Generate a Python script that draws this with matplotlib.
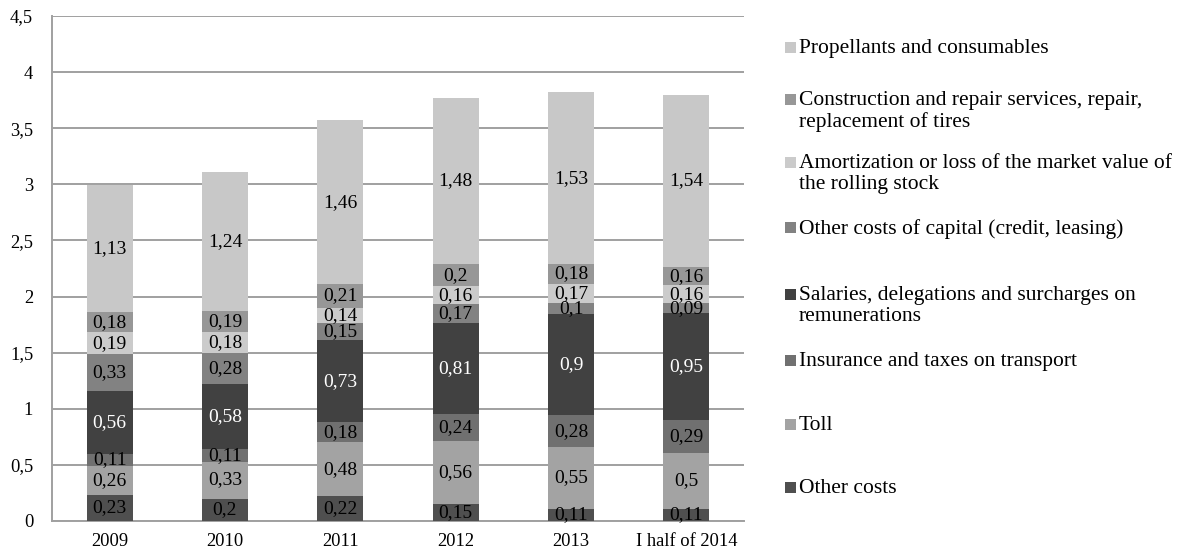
import numpy as np
import matplotlib.pyplot as plt
from matplotlib.patches import Rectangle

years = ['2009', '2010', '2011', '2012', '2013', 'I half of 2014']

# stack order, bottom to top
other_costs = [0.23, 0.2, 0.22, 0.15, 0.11, 0.11]
toll = [0.26, 0.33, 0.48, 0.56, 0.55, 0.5]
insurance = [0.11, 0.11, 0.18, 0.24, 0.28, 0.29]
salaries = [0.56, 0.58, 0.73, 0.81, 0.9, 0.95]
capital = [0.33, 0.28, 0.15, 0.17, 0.1, 0.09]
amortization = [0.19, 0.18, 0.14, 0.16, 0.17, 0.16]
construction = [0.18, 0.19, 0.21, 0.2, 0.18, 0.16]
propellants = [1.13, 1.24, 1.46, 1.48, 1.53, 1.54]

series = [other_costs, toll, insurance, salaries, capital, amortization, construction, propellants]
labels = ['Other costs', 'Toll', 'Insurance and taxes on transport',
          'Salaries, delegations and surcharges on\nremunerations',
          'Other costs of capital (credit, leasing)',
          'Amortization or loss of the market value of\nthe rolling stock',
          'Construction and repair services, repair,\nreplacement of tires',
          'Propellants and consumables']
colors = ['#4f4f4f', '#a3a3a3', '#707070', '#414141', '#828282', '#cbcbcb', '#979797', '#c8c8c8']
text_colors = ['black', 'black', 'black', 'white', 'black', 'black', 'black', 'black']

plt.rcParams['font.family'] = ['Liberation Serif', 'DejaVu Serif']

fig = plt.figure(figsize=(11.78, 5.53), dpi=100)
ax = fig.add_axes([0.0441, 0.0579, 0.5875, 0.9132])

x = np.arange(len(years))
bottom = np.zeros(len(years))
for vals, c, tc in zip(series, colors, text_colors):
    vals = np.array(vals)
    bars = ax.bar(x, vals, 0.4, bottom=bottom, color=c, zorder=3)
    for xi, b, v in zip(x, bottom, vals):
        ax.text(xi, b + v / 2, ('%g' % v).replace('.', ','), ha='center', va='center',
                fontsize=14, color=tc, zorder=4)
    bottom = bottom + vals

ax.set_xlim(-0.5, len(years) - 0.5)
ax.set_ylim(0, 4.5)
yt = np.arange(0, 4.51, 0.5)
ax.set_yticks(yt)
ax.set_yticklabels([('%g' % v).replace('.', ',') for v in yt], fontsize=13.3)
ax.set_xticks(x)
ax.set_xticklabels(years, fontsize=13.3)
ax.tick_params(axis='x', length=0, pad=9)
ax.tick_params(axis='y', length=0, pad=13.5)
ax.grid(axis='y', color='#a0a0a0', lw=1.4, zorder=0)
for s in ['top', 'right']:
    ax.spines[s].set_visible(False)
for s in ['left', 'bottom']:
    ax.spines[s].set_color('#a0a0a0')
    ax.spines[s].set_linewidth(1.4)

# legend, top entry first; cap-top pixel rows of each entry
W, H = 1178.0, 553.0
leg_y = [40, 92, 155, 220, 287, 353, 417, 480]
for i, k in enumerate(range(len(series) - 1, -1, -1)):
    ytop = leg_y[i]
    fig.add_artist(Rectangle((785 / W, 1 - (ytop + 13) / H), 11 / W, 11 / H,
                             transform=fig.transFigure, color=colors[k], lw=0))
    fig.text(799 / W, 1 - (ytop - 1) / H, labels[k], ha='left', va='top', fontsize=15.5,
             linespacing=1.17)

fig.savefig('out.png', dpi=100)
